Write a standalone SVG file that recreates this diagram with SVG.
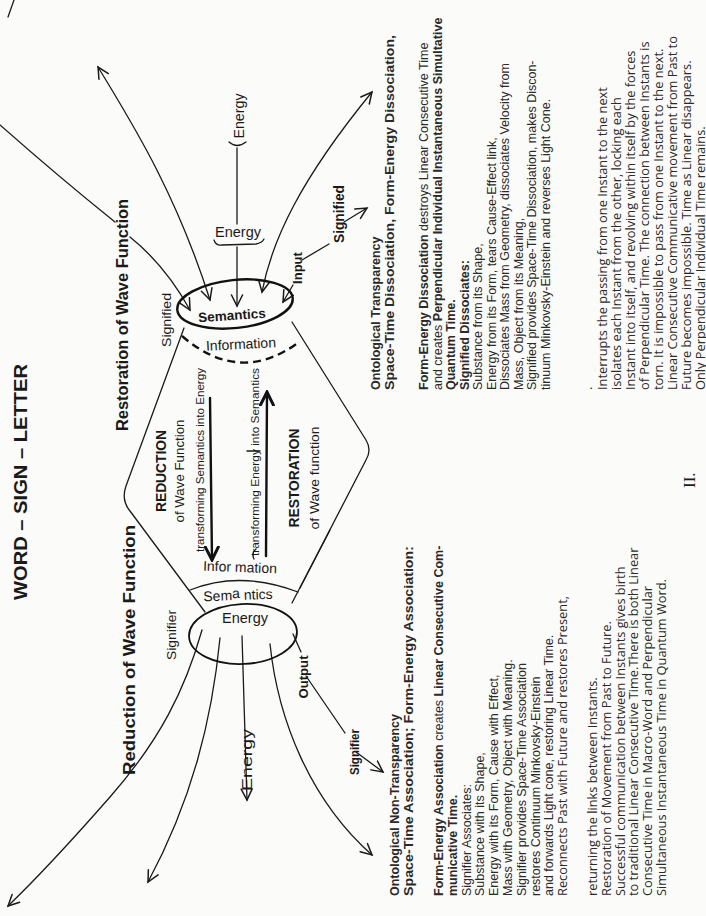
<svg xmlns="http://www.w3.org/2000/svg" width="706" height="916" viewBox="0 0 706 916">
<defs>
<style>
.t{font-family:"Liberation Sans",Arial,sans-serif;fill:#1a1a1a}
.b{font-weight:bold}
.bd{font-family:"Liberation Sans",Arial,sans-serif;font-size:12.5px;fill:#2a2a2a}
.hu{font-family:"Open Sans","Liberation Sans",sans-serif;font-size:12.8px;fill:#2a2a2a}
.ln{fill:none;stroke:#1a1a1a;stroke-width:1.3;stroke-linecap:round;stroke-linejoin:round}
.th{fill:none;stroke:#111;stroke-width:2.4;stroke-linecap:round}
</style>
<marker id="ah" viewBox="0 0 14 14" refX="12" refY="7" markerWidth="14" markerHeight="14" markerUnits="userSpaceOnUse" orient="auto"><path d="M1,1.5 L12,7 L1,12.5" fill="none" stroke="#1a1a1a" stroke-width="1.5" stroke-linecap="round"/></marker>
<marker id="ahs" viewBox="0 0 14 14" refX="12" refY="7" markerWidth="14" markerHeight="14" markerUnits="userSpaceOnUse" orient="auto-start-reverse"><path d="M1,1.5 L12,7 L1,12.5" fill="none" stroke="#1a1a1a" stroke-width="1.5" stroke-linecap="round"/></marker>
<marker id="ahb" viewBox="0 0 16 16" refX="14" refY="8" markerWidth="16" markerHeight="16" markerUnits="userSpaceOnUse" orient="auto"><path d="M1,1.5 L14,8 L1,14.5" fill="none" stroke="#111" stroke-width="3" stroke-linecap="round"/></marker>
</defs>
<rect width="706" height="916" fill="#fbfbf9"/>

<g id="title"><text class="t b" font-size="19" text-anchor="middle" textLength="236" lengthAdjust="spacingAndGlyphs" transform="translate(27,482) rotate(-90)">WORD – SIGN – LETTER</text></g>
<g id="label-restoration"><text class="t b" font-size="16" text-anchor="middle" textLength="232" lengthAdjust="spacingAndGlyphs" transform="translate(128,315) rotate(-90)">Restoration of Wave Function</text></g>
<g id="label-reduction"><text class="t b" font-size="16" text-anchor="middle" textLength="250" lengthAdjust="spacingAndGlyphs" transform="translate(135,650) rotate(-90)">Reduction of Wave Function</text></g>

<g id="connectors">
<path class="ln" d="M0,125 Q60,178 115,222"/>
<path class="ln" d="M14,0 L8,17"/>
<path class="ln" d="M130,237 Q165,265 190,310" marker-end="url(#ah)"/>
<path class="ln" stroke-width="2" d="M98,67 C130,120 175,190 210,300" marker-start="url(#ahs)" marker-end="url(#ah)"/>
<path class="ln" d="M262,292 C272,240 300,180 372,92" marker-start="url(#ahs)" marker-end="url(#ah)"/>
<path class="ln" d="M237,148 L237,224"/>
<path class="ln" d="M229,142 Q237,149 246,142"/>
<path class="ln" d="M214,240 Q216,246 222,245 L256,244 Q262,243 264,239"/>
<path class="ln" d="M237,247 L237,306" marker-end="url(#ah)"/>
<path class="ln" d="M302,260 L329,244"/>
<path class="ln" d="M293,285 L283,302" marker-end="url(#ah)"/>
<path class="ln" d="M344,222 L367,208" marker-end="url(#ah)"/>
<path class="th" d="M210,398 L212,560" marker-end="url(#ahb)"/>
<path class="th" d="M266,556 L267,392" marker-end="url(#ahb)"/>
<path class="ln" d="M247,451 L260,451"/>
<path class="ln" d="M256,549 Q251,553 254,559"/>
<path class="ln" d="M202,630 C185,690 160,740 110,797 S35,880 8,906" marker-end="url(#ah)"/>
<path class="ln" d="M220,638 C212,720 192,800 148,882" marker-end="url(#ah)"/>
<path class="ln" d="M242,636 L247,800" marker-end="url(#ah)"/>
<path class="ln" d="M270,644 C278,720 310,800 372,855" marker-end="url(#ah)"/>
<path class="ln" d="M293,634 L301,652"/>
<path class="ln" d="M306,676 L345,733"/>
<path class="ln" d="M356,752 L383,772" marker-end="url(#ah)"/>
</g>

<g id="node-semantics-top">
<ellipse cx="235" cy="304" rx="58" ry="24" transform="rotate(-6 235 304)" fill="none" stroke="#111" stroke-width="2.4"/>
<text class="t b" x="232" y="320" font-size="13.5" text-anchor="middle" transform="rotate(-4 232 316)">Semantics</text>
</g>
<g id="node-information-top">
<path d="M182,336 Q240,386 299,342" fill="none" stroke="#111" stroke-width="2.4" stroke-dasharray="8 5"/>
<text class="t" x="241" y="349" font-size="14" text-anchor="middle" transform="rotate(-3 241 345)">Information</text>
</g>
<g id="node-lens">
<path class="ln" d="M184,328 L126,486 Q121,500 130,511 L205,612"/>
<path class="ln" d="M292,322 L366,440 Q372,450 366,460 L292,603"/>
<path class="ln" stroke-width="2.6" d="M330,530 L300,588"/>
</g>
<g id="node-reduction">
<text class="t b" font-size="14.5" text-anchor="middle" textLength="82" lengthAdjust="spacingAndGlyphs" transform="translate(166,471) rotate(-90)">REDUCTION</text>
<text class="t" font-size="13.5" text-anchor="middle" textLength="103" lengthAdjust="spacingAndGlyphs" transform="translate(184,471) rotate(-90)">of Wave Function</text>
<text class="t" font-size="11" text-anchor="middle" textLength="184" lengthAdjust="spacingAndGlyphs" transform="translate(204,460) rotate(-90)">transforming Semantics into Energy</text>
</g>
<g id="node-restoration">
<text class="t" font-size="11" text-anchor="middle" textLength="188" lengthAdjust="spacingAndGlyphs" transform="translate(259,462) rotate(-90)">transforming Energy into Semantics</text>
<text class="t b" font-size="14.5" text-anchor="middle" textLength="99" lengthAdjust="spacingAndGlyphs" transform="translate(299,478) rotate(-90)">RESTORATION</text>
<text class="t" font-size="13.5" text-anchor="middle" textLength="103" lengthAdjust="spacingAndGlyphs" transform="translate(319,478) rotate(-90)">of Wave function</text>
</g>
<g id="node-energy-bottom">
<text class="t" x="240" y="572" font-size="14" text-anchor="middle" transform="rotate(2 240 568)">Infor mation</text>
<path class="ln" d="M190,590 Q240,570 298,592"/>
<text class="t" x="238" y="600" font-size="14" text-anchor="middle" transform="rotate(-2 238 596)">Sem<tspan dy="-2">a</tspan><tspan dy="2"> ntics</tspan></text>
<ellipse cx="243" cy="634" rx="54" ry="30" transform="rotate(-3 243 634)" fill="none" stroke="#111" stroke-width="1.8"/>
<text class="t" x="245" y="623" font-size="14.5" text-anchor="middle">Energy</text>
</g>
<g id="labels">
<text class="t" font-size="14" text-anchor="middle" textLength="45" lengthAdjust="spacingAndGlyphs" transform="translate(244,116) rotate(-90)">Energy</text>
<text class="t" x="238" y="237" font-size="14.5" text-anchor="middle">Energy</text>
<text class="t" font-size="13.5" text-anchor="middle" textLength="54" lengthAdjust="spacingAndGlyphs" transform="translate(171,320) rotate(-90)">Signified</text>
<text class="t b" font-size="13" text-anchor="middle" transform="translate(302,268) rotate(-90)">Input</text>
<text class="t b" font-size="14" text-anchor="middle" textLength="58" lengthAdjust="spacingAndGlyphs" transform="translate(344,214) rotate(-90)">Signified</text>
<text class="t" font-size="13.5" text-anchor="middle" textLength="50" lengthAdjust="spacingAndGlyphs" transform="translate(176,635) rotate(-90)">Signifier</text>
<text class="t b" font-size="13" text-anchor="middle" textLength="43" lengthAdjust="spacingAndGlyphs" transform="translate(308,677) rotate(-90)">Output</text>
<text class="t b" font-size="13" text-anchor="middle" textLength="46" lengthAdjust="spacingAndGlyphs" transform="translate(359,752) rotate(-90)">Signifier</text>
<text class="t" font-size="14" text-anchor="middle" textLength="62" lengthAdjust="spacingAndGlyphs" transform="translate(252,760) rotate(-90)">Energy</text>
</g>

<g id="text-dissociation">
<text class="bd b" transform="translate(380,390) rotate(-90)">Ontological Transparency</text>
<text class="bd b" textLength="355" lengthAdjust="spacingAndGlyphs" transform="translate(394,390) rotate(-90)">Space-Time Dissociation, Form-Energy Dissociation,</text>
<text class="bd" transform="translate(428,390) rotate(-90)"><tspan font-weight="bold">Form-Energy Dissociation</tspan> destroys Linear Consecutive Time</text>
<text class="bd" transform="translate(441.5,390) rotate(-90)">and creates <tspan font-weight="bold">Perpendicular Individual Instantaneous Simultative</tspan></text>
<text class="bd b" transform="translate(455,390) rotate(-90)">Quantum Time.</text>
<text class="bd b" transform="translate(468.5,390) rotate(-90)">Signified Dissociates:</text>
<text class="bd" transform="translate(482,390) rotate(-90)">Substance from its Shape,</text>
<text class="bd" transform="translate(495.5,390) rotate(-90)">Energy from its Form,  tears Cause-Effect link,</text>
<text class="bd" transform="translate(509,390) rotate(-90)">Dissociates Mass from Geometry, dissociates Velocity from</text>
<text class="bd" transform="translate(522.5,390) rotate(-90)">Mass, Object from its Meaning,</text>
<text class="bd" transform="translate(536,390) rotate(-90)">Signified provides Space-Time Dissociation, makes Discon-</text>
<text class="bd" transform="translate(549.5,390) rotate(-90)">tinuum Minkovsky-Einstein and reverses Light Cone.</text>
</g>
<g id="text-interrupts">
<text class="hu" transform="translate(592,390) rotate(-90)">.</text>
<text class="hu" transform="translate(607,390) rotate(-90)">Interrupts the passing from one Instant to the next</text>
<text class="hu" transform="translate(621,390) rotate(-90)">isolates each Instant from the other, locking each</text>
<text class="hu" transform="translate(635,390) rotate(-90)">Instant into itself, and revolving within itself by the forces</text>
<text class="hu" transform="translate(649,390) rotate(-90)">of  Perpendicular Time.  The connection between Instants is</text>
<text class="hu" transform="translate(663,390) rotate(-90)">torn.  It is impossible to pass from one Instant to the next.</text>
<text class="hu" transform="translate(677,390) rotate(-90)">Linear Consecutive Communicative movement from Past to</text>
<text class="hu" transform="translate(691,390) rotate(-90)">Future becomes impossible.  Time as Linear disappears.</text>
<text class="hu" transform="translate(704.5,390) rotate(-90)">Only Perpendicular Individual Time remains.</text>
</g>
<g id="text-association">
<text class="bd b" transform="translate(399,896) rotate(-90)">Ontological Non-Transparency</text>
<text class="bd b" textLength="350" lengthAdjust="spacingAndGlyphs" transform="translate(412.8,896) rotate(-90)">Space-Time Association; Form-Energy Association:</text>
<text class="bd" transform="translate(443,896) rotate(-90)"><tspan font-weight="bold">Form-Energy Association</tspan> creates <tspan font-weight="bold">Linear Consecutive Com-</tspan></text>
<text class="bd b" transform="translate(456.8,896) rotate(-90)">municative Time.</text>
<text class="bd" transform="translate(470.6,896) rotate(-90)">Signifier Associates:</text>
<text class="bd" transform="translate(484.4,896) rotate(-90)">Substance with its Shape,</text>
<text class="bd" transform="translate(498.2,896) rotate(-90)">Energy with its Form, Cause with Effect,</text>
<text class="bd" transform="translate(512,896) rotate(-90)">Mass with Geometry, Object with Meaning.</text>
<text class="bd" transform="translate(525.8,896) rotate(-90)">Signifier provides Space-Time Association</text>
<text class="bd" transform="translate(539.6,896) rotate(-90)">restores Continuum Minkovsky-Einstein</text>
<text class="bd" transform="translate(553.4,896) rotate(-90)">and forwards Light cone, restoring Linear Time.</text>
<text class="hu" transform="translate(567.2,896) rotate(-90)">Reconnects Past with Future and restores Present,</text>
<text class="hu" transform="translate(597,896) rotate(-90)">returning the links between Instants.</text>
<text class="hu" transform="translate(610.8,896) rotate(-90)">Restoration of Movement from Past to Future.</text>
<text class="hu" transform="translate(624.6,896) rotate(-90)">Successful communication between Instants gives birth</text>
<text class="hu" transform="translate(638.4,896) rotate(-90)">to traditional Linear Consecutive Time.There is both Linear</text>
<text class="hu" transform="translate(652.2,896) rotate(-90)">Consecutive Time in Macro-Word and Perpendicular</text>
<text class="hu" transform="translate(666,896) rotate(-90)">Simultaneous Instantaneous Time in Quantum Word.</text>
</g>
<g id="page-number"><text font-family="Liberation Serif,serif" font-size="17" fill="#1a1a1a" transform="translate(695,488) rotate(-90)">II.</text></g>
</svg>
